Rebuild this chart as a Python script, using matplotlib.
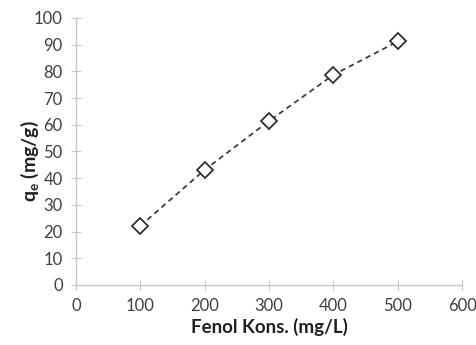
import matplotlib
matplotlib.use("Agg")
import matplotlib.pyplot as plt

# data
fenol_kons = [100, 200, 300, 400, 500]
qe = [22.1, 43.1, 61.4, 78.7, 91.2]

x_ticks = [0, 100, 200, 300, 400, 500, 600]
y_ticks = [0, 10, 20, 30, 40, 50, 60, 70, 80, 90, 100]

plt.rcParams["font.family"] = ["Lato", "DejaVu Sans"]

fig = plt.figure(figsize=(4.77, 3.45), dpi=100)
ax = fig.add_axes([0.159, 0.174, 0.81, 0.774])

ax.plot(fenol_kons, qe, linestyle="--", color="#404040", linewidth=1.3,
        dashes=(3, 2.2), marker="D", markersize=8, markerfacecolor="white",
        markeredgecolor="#303030", markeredgewidth=1.3)

ax.set_xlim(0, 600)
ax.set_ylim(0, 100)
ax.set_xticks(x_ticks)
ax.set_yticks(y_ticks)

for side in ("top", "right"):
    ax.spines[side].set_visible(False)
for side in ("left", "bottom"):
    ax.spines[side].set_color("#c8c8c8")
    ax.spines[side].set_linewidth(1)

ax.tick_params(direction="inout", length=7, color="#c8c8c8",
               labelsize=12, labelcolor="#404040", pad=6)

ax.set_xlabel("Fenol Kons. (mg/L)", fontsize=13.5, fontweight="bold",
              color="#202020", labelpad=3)
ax.set_ylabel(r"q$_\mathregular{e}$ (mg/g)", fontsize=14, fontweight="bold",
              color="#202020")
ax.yaxis.set_label_coords(-0.09, 0.465)

fig.savefig("out.png", dpi=100)
